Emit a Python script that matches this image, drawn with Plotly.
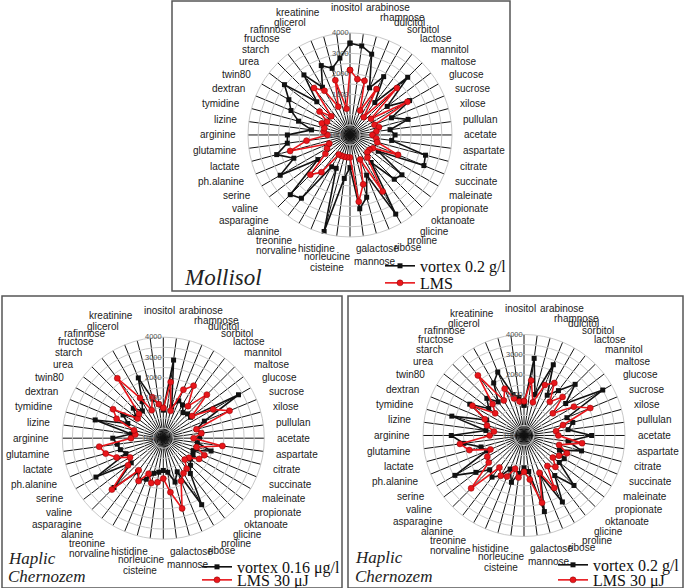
import math
import plotly.graph_objects as go

categories = ["inositol", "arabinose", "rhamnose", "dulcitol", "sorbitol", "lactose",
              "mannitol", "maltose", "glucose", "sucrose", "xilose", "pullulan",
              "acetate", "aspartate", "citrate", "succinate", "maleinate", "propionate",
              "oktanoate", "glicine", "proline", "ribose", "galactose", "mannose",
              "cisteine", "norleucine", "histidine", "norvaline", "treonine", "alanine",
              "asparagine", "valine", "serine", "ph.alanine", "lactate", "glutamine",
              "arginine", "lizine", "tymidine", "dextran", "twin80", "urea",
              "starch", "fructose", "rafinnose", "glicerol", "kreatinine", " "]

mollisol_vortex = [3500, 3400, 3100, 1500, 2300, 1000, 3000, 1300, 2370, 1200, 1950, 980,
                   1210, 1060, 2830, 2920, 600, 2210, 2070, 700, 3480, 1130, 2160, 2650,
                   600, 1150, 3900, 770, 800, 2910, 3140, 980, 2950, 1980, 2720, 2100,
                   2070, 900, 1610, 2130, 2460, 3050, 1300, 2710, 1700, 2680, 2380, 2800]
mollisol_lms = [2180, 1760, 1750, 300, 1600, 100, 2250, 300, 2250, 300, 470, 300,
                100, 300, 380, 1550, 300, 200, 200, 400, 2200, 300, 1500, 2300,
                100, 100, 100, 100, 100, 1300, 1750, 520, 300, 100, 2040, 1150,
                100, 300, 300, 490, 300, 880, 300, 1900, 1500, 500, 1780, 300]

haplic1_vortex = [400, 2900, 600, 1000, 900, 600, 700, 700, 3300, 1200, 700, 900,
                  800, 700, 1450, 600, 700, 700, 900, 1200, 2800, 800, 1250, 700,
                  600, 700, 800, 1200, 1400, 1100, 2450, 1000, 2850, 1000, 1200, 1300,
                  1500, 600, 2490, 900, 1300, 700, 1100, 700, 1100, 2230, 1000, 700]
haplic1_lms = [500, 1800, 400, 1600, 2000, 1000, 2050, 800, 1850, 2550, 700, 900,
               500, 1950, 700, 1200, 1050, 600, 500, 900, 1000, 1300, 2600, 1700,
               1000, 1200, 1300, 900, 1450, 1000, 2600, 1200, 900, 1500, 1950, 2200,
               600, 400, 500, 1500, 1870, 600, 700, 2740, 1300, 500, 1100, 700]

haplic2_vortex = [500, 2850, 1100, 2790, 1300, 1800, 2580, 1600, 3500, 1300, 1500, 1200,
                  2350, 1200, 1950, 900, 1300, 1200, 2500, 1500, 2800, 1100, 2900, 800,
                  600, 900, 1400, 800, 1300, 1600, 1400, 2000, 2950, 1000, 1200, 2000,
                  2600, 900, 2700, 1000, 2100, 1200, 1600, 1100, 2000, 2400, 1100, 900]
haplic2_lms = [700, 1750, 700, 1700, 2000, 1100, 1700, 800, 1850, 2550, 1000, 600,
               700, 1900, 800, 1300, 1000, 800, 1200, 900, 2000, 1000, 2450, 1200,
               800, 1100, 700, 1200, 1300, 1000, 2700, 1200, 1100, 800, 1800, 2200,
               700, 500, 900, 1100, 1950, 800, 1200, 2750, 1000, 1500, 900, 700]

R_MIN, R_MAX = -1000, 4000
grid_vals = [-1000, -500, 0, 500, 1000, 1500, 2000, 2500, 3000, 3500, 4000]
scale_vals = [1000, 2000, 3000, 4000]
scale_labels = ["1000", "2000", "3000", "4000"]
center_label = "100"

# design grid (pixels of the target picture); the page is made a little taller
W, H = 685, 588
PAGE_H = 597

panels = [
    dict(polar="polar", cx=350, cy=134.5, R=102, vortex=mollisol_vortex, lms=mollisol_lms,
         vname="vortex 0.2 g/l", lname="LMS", leg=("legend", "legend2"),
         legx=380, legy=(265, 282)),
    dict(polar="polar2", cx=163.3, cy=436.7, R=101, vortex=haplic1_vortex, lms=haplic1_lms,
         vname="vortex 0.16 \u03bcg/l", lname="LMS 30 \u03bcJ", leg=("legend3", "legend4"),
         legx=197, legy=(565, 578)),
    dict(polar="polar3", cx=524, cy=434, R=101, vortex=haplic2_vortex, lms=haplic2_lms,
         vname="vortex 0.2 g/l", lname="LMS 30 \u03bcJ", leg=("legend5", "legend6"),
         legx=553, legy=(563, 578)),
]

# label placement (layout styling): ellipse around each radar + a few hand nudges
RX, RY = 113, 121
NUDGE = {"inositol": (-4, -6), "arabinose": (0, -7), "kreatinine": (0, -5),
         "galactose": (-24, -4), "mannose": (-12, 6), "cisteine": (-23, 11),
         "norleucine": (17, 1), "histidine": (15, -4), "norvaline": (-9, 3)}

lab_font = dict(family="Liberation Sans, Arial", size=10, color="#1a1a1a")
tick_font = dict(family="Liberation Sans, Arial", size=7.5, color="#555555")


def px(x):
    return x / W


def py(y):
    return 1 - y / H


fig = go.Figure()
annotations = []
layout = {}
for p in panels:
    th = categories + categories[:1]
    fig.add_trace(go.Scatterpolar(
        r=p["vortex"] + p["vortex"][:1], theta=th, mode="lines+markers",
        name=p["vname"], subplot=p["polar"], legend=p["leg"][0],
        line=dict(color="#111111", width=1.6),
        marker=dict(symbol="square", size=5, color="#111111")))
    fig.add_trace(go.Scatterpolar(
        r=p["lms"] + p["lms"][:1], theta=th, mode="lines+markers",
        name=p["lname"], subplot=p["polar"], legend=p["leg"][1],
        line=dict(color="#e8161b", width=1.6),
        marker=dict(symbol="circle", size=6, color="#e8161b",
                    line=dict(color="#8a0000", width=0.5))))
    cx, cy, R = p["cx"], p["cy"], p["R"]
    layout[p["polar"]] = dict(
        domain=dict(x=[px(cx - R), px(cx + R)], y=[py(cy + R), py(cy - R)]),
        bgcolor="white", hole=0,
        angularaxis=dict(type="category", categoryarray=categories, rotation=90,
                         direction="clockwise", gridcolor="#111111", gridwidth=0.7,
                         linecolor="#c8c8c8", linewidth=1, showline=True, ticks="",
                         showticklabels=False),
        radialaxis=dict(range=[R_MIN, R_MAX], tickvals=grid_vals, showticklabels=False,
                        angle=90, showline=False, ticks="",
                        gridcolor="#c8c8c8", gridwidth=0.8),
    )
    # radial scale labels, placed along the vertical spoke via the radial scale
    for v, t in zip(scale_vals, scale_labels):
        y = cy - R * (v - R_MIN) / (R_MAX - R_MIN)
        annotations.append(dict(text=t, x=px(cx - 0.5), y=py(y), xref="paper", yref="paper",
                                xanchor="right", yanchor="middle", showarrow=False, borderpad=0,
                                font=tick_font))
    annotations.append(dict(text=center_label, x=px(cx - 7), y=py(cy), xref="paper",
                            yref="paper", xanchor="right", yanchor="middle", showarrow=False,
                            borderpad=0, font=tick_font))
    n = len(categories)
    for i, name in enumerate(categories):
        if not name.strip():
            continue
        a = math.radians(360.0 * i / n)
        s, c = math.sin(a), math.cos(a)
        x = cx + RX * s
        y = cy - RY * c
        dx, dy = NUDGE.get(name, (0, 0))
        x += dx
        y += dy
        if abs(s) < 0.05:
            xa = "center"
        elif s > 0:
            xa = "left"
        else:
            xa = "right"
        annotations.append(dict(text=name, x=px(x), y=py(y), xref="paper", yref="paper",
                                xanchor=xa, yanchor="middle", showarrow=False, borderpad=0,
                                font=lab_font))
    for key, ly in zip(p["leg"], p["legy"]):
        layout[key] = dict(x=px(p["legx"]), y=py(ly), xanchor="left", yanchor="middle",
                           bgcolor="rgba(0,0,0,0)", itemwidth=30,
                           font=dict(family="Liberation Serif, Times New Roman", size=16,
                                     color="#111111"))

fig.update_layout(width=W, height=PAGE_H, margin=dict(l=0, r=0, t=0, b=0),
                  paper_bgcolor="white", plot_bgcolor="white", showlegend=True, **layout)

box = dict(type="rect", xref="paper", yref="paper", line=dict(color="#555555", width=1.5),
           fillcolor="rgba(0,0,0,0)")
fig.update_layout(shapes=[
    dict(x0=px(172), x1=px(510), y0=py(290), y1=py(1), **box),
    dict(x0=px(2), x1=px(342), y0=py(586), y1=py(295), **box),
    dict(x0=px(348), x1=px(683), y0=py(586), y1=py(295), **box),
])

title_font = dict(family="Liberation Serif, Times New Roman", color="#222222")
for txt, x, y, size in [("Mollisol", 182, 277, 23), ("Haplic", 6, 557, 17),
                        ("Chernozem", 6, 575, 17), ("Haplic", 353, 556, 17),
                        ("Chernozem", 353, 575, 17)]:
    annotations.append(dict(text="<i>" + txt + "</i>", x=px(x), y=py(y), xref="paper",
                            yref="paper", xanchor="left", yanchor="middle", showarrow=False,
                            font=dict(size=size, **title_font)))
fig.update_layout(annotations=annotations)

fig.write_html("out.html", config={"displayModeBar": False},
               post_script="document.body.style.margin='0';")
